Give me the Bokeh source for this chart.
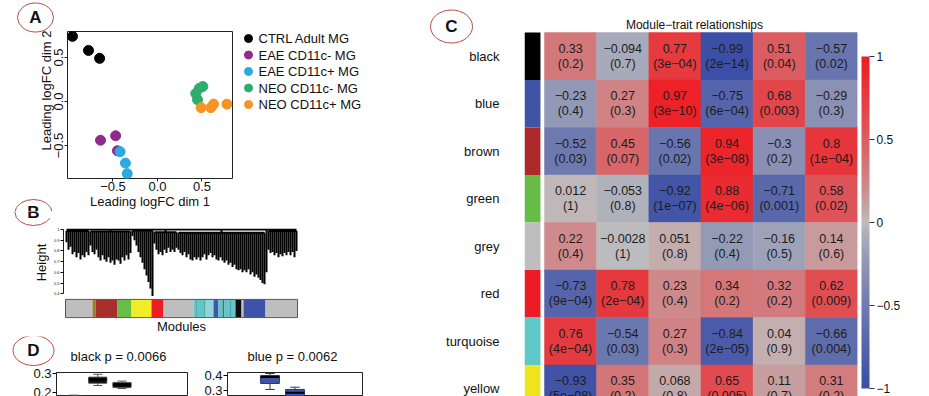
import numpy as np
from bokeh.plotting import figure
from bokeh.models import ColumnDataSource, Range1d, FixedTicker, LinearColorMapper, ColorBar
from bokeh.layouts import row, column
from bokeh.embed import file_html
from bokeh.resources import INLINE
from bokeh.core.properties import value

FONT = "Liberation Sans"
MINUS = "\u2212"
INK = "#111111"
CIRCLE = "#B84A44"

# ---------------- Panel A : MDS plot ----------------
mds_groups = ["CTRL Adult MG", "EAE CD11c- MG", "EAE CD11c+ MG", "NEO CD11c- MG", "NEO CD11c+ MG"]
mds_colors = ["#000000", "#8E2B8D", "#2BA9E1", "#2DAE6D", "#F39424"]
ctrl_dim1 = [-0.955, -0.775, -0.65]
ctrl_dim2 = [0.74, 0.58, 0.49]
eae_neg_dim1 = [-0.64, -0.47, -0.45]
eae_neg_dim2 = [-0.44, -0.39, -0.56]
eae_pos_dim1 = [-0.42, -0.36, -0.34]
eae_pos_dim2 = [-0.57, -0.70, -0.82]
neo_neg_dim1 = [0.51, 0.43, 0.45, 0.47]
neo_neg_dim2 = [0.17, 0.09, 0.02, 0.15]
neo_pos_dim1 = [0.49, 0.60, 0.63, 0.78]
neo_pos_dim2 = [-0.07, -0.07, -0.03, -0.03]
mds_ticks = [-0.5, 0.0, 0.5]
mds_tick_labels = [MINUS + "0.5", "0.0", "0.5"]

# ---------------- Panel B : dendrogram + module colours ----------------
leaves_g1 = [0.88, 0.81, 0.84, 0.77, 0.79, 0.74, 0.78, 0.72, 0.76, 0.74, 0.79, 0.76]
leaves_g2 = [0.85, 0.79, 0.77, 0.81, 0.74, 0.71, 0.76, 0.72, 0.70, 0.74, 0.69, 0.71, 0.67,
             0.72, 0.71, 0.68, 0.74, 0.71, 0.76, 0.72, 0.78]
leaves_g3 = [0.94, 0.90, 0.85, 0.79, 0.74, 0.69, 0.63, 0.57, 0.51, 0.45, 0.38]
leaves_g4 = [0.87, 0.81, 0.77, 0.79, 0.76, 0.81, 0.78, 0.83, 0.79, 0.81, 0.79, 0.83]
leaves_g5 = [0.81, 0.78, 0.76, 0.79, 0.74, 0.77, 0.72, 0.71, 0.74, 0.72, 0.74, 0.71, 0.74,
             0.77, 0.72, 0.76, 0.78, 0.74, 0.76, 0.72, 0.71, 0.74, 0.71, 0.69, 0.71, 0.67,
             0.69, 0.65, 0.67, 0.63, 0.62, 0.63, 0.60, 0.62, 0.60, 0.63, 0.58, 0.60, 0.56,
             0.58, 0.55, 0.53, 0.50, 0.49]
leaves_g6 = [0.60]
leaves_g7 = [0.81, 0.78, 0.79, 0.76, 0.78, 0.74, 0.77, 0.75, 0.78, 0.76, 0.79, 0.76, 0.79,
             0.74, 0.80]
merge_heights = [0.985, 0.98, 0.99, 0.975, 0.97, 0.965, 0.985]
height_ticks = [0.4, 0.5, 0.6, 0.7, 0.8, 0.9, 1.0]
module_bar_colors = ["#BEBEBE", "#9C7A2E", "#A8302C", "#67BD48", "#F2EC26", "#EC1E25", "#BEBEBE",
                     "#5CC8C9", "#1F6A74", "#5CC8C9", "#1F6A74", "#8ED6D8", "#4157A6", "#5CC8C9",
                     "#2C7C86", "#5CC8C9", "#1F5660", "#5CC8C9", "#0D0D0D", "#BEBEBE", "#3D52A8",
                     "#BEBEBE"]
module_bar_sizes = [13.5, 1.5, 11, 7, 10, 6, 15, 1.5, 0.5, 3.5, 0.5, 4, 2.5, 2, 1, 3, 0.5, 2,
                    3, 1, 11, 16]

# ---------------- Panel C : module-trait heatmap ----------------
modules = ["black", "blue", "brown", "green", "grey", "red", "turquoise", "yellow"]
module_swatches = ["#000000", "#3F53A7", "#AD2A2C", "#66BC46", "#BEBEBE", "#EC1C24", "#5EC8C8", "#EDE51D"]
cor_black = [0.33, -0.094, 0.77, -0.99, 0.51, -0.57]
cor_blue = [-0.23, 0.27, 0.97, -0.75, 0.68, -0.29]
cor_brown = [-0.52, 0.45, -0.56, 0.94, -0.3, 0.8]
cor_green = [0.012, -0.053, -0.92, 0.88, -0.71, 0.58]
cor_grey = [0.22, -0.0028, 0.051, -0.22, -0.16, 0.14]
cor_red = [-0.73, 0.78, 0.23, 0.34, 0.32, 0.62]
cor_turquoise = [0.76, -0.54, 0.27, -0.84, 0.04, -0.66]
cor_yellow = [-0.93, 0.35, 0.068, 0.65, 0.11, 0.31]
p_black = ["0.2", "0.7", "3e-04", "2e-14", "0.04", "0.02"]
p_blue = ["0.4", "0.3", "3e-10", "6e-04", "0.003", "0.3"]
p_brown = ["0.03", "0.07", "0.02", "3e-08", "0.2", "1e-04"]
p_green = ["1", "0.8", "1e-07", "4e-06", "0.001", "0.02"]
p_grey = ["0.4", "1", "0.8", "0.4", "0.5", "0.6"]
p_red = ["9e-04", "2e-04", "0.4", "0.2", "0.2", "0.009"]
p_turquoise = ["4e-04", "0.03", "0.3", "2e-05", "0.9", "0.004"]
p_yellow = ["5e-08", "0.2", "0.8", "0.005", "0.7", "0.2"]
colorbar_ticks = [-1, -0.5, 0, 0.5, 1]

# ---------------- Panel D : eigengene boxplots ----------------
d_modules = ["black", "blue"]
d_pvalues = ["0.0066", "0.0062"]
box_groups = [1, 2, 3, 4, 5]
black_lo = [0.150, 0.237, 0.221, 0.100, 0.080]
black_q1 = [0.160, 0.249, 0.226, 0.110, 0.090]
black_med = [0.170, 0.268, 0.242, 0.120, 0.100]
black_q3 = [0.180, 0.281, 0.253, 0.130, 0.110]
black_hi = [0.186, 0.296, 0.260, 0.140, 0.120]
blue_lo = [0.190, 0.307, 0.250, 0.120, 0.100]
blue_q1 = [0.200, 0.347, 0.262, 0.130, 0.110]
blue_med = [0.210, 0.390, 0.285, 0.140, 0.120]
blue_q3 = [0.220, 0.400, 0.307, 0.150, 0.130]
blue_hi = [0.235, 0.413, 0.322, 0.160, 0.140]


def base_fig(width, height, xr, yr, left, right, top, bottom, title=None):
    p = figure(width=width, height=height, x_range=xr, y_range=yr, title=title,
               output_backend="svg", toolbar_location=None,
               min_border_left=left, min_border_right=right,
               min_border_top=top, min_border_bottom=bottom,
               background_fill_color="white", border_fill_color="white")
    p.xgrid.grid_line_color = None
    p.ygrid.grid_line_color = None
    p.axis.minor_tick_line_color = None
    p.axis.major_label_text_font = FONT
    p.axis.axis_label_text_font = FONT
    p.axis.axis_label_text_font_style = "normal"
    p.axis.major_label_text_color = INK
    p.axis.axis_label_text_color = INK
    p.outline_line_color = None
    return p


def blank_fig(width, height, xr, yr):
    p = base_fig(width, height, xr, yr, 0, 0, 0, 0)
    p.xaxis.visible = False
    p.yaxis.visible = False
    return p


def draw_badge(p, letter, cx, cy, w, h):
    p.ellipse(x=[cx], y=[cy], width=w, height=h, width_units="screen", height_units="screen",
              fill_color=None, line_color=CIRCLE, line_width=1)
    p.text(x=[cx], y=[cy], text=[letter], text_align="center", text_baseline="middle",
           text_font=value(FONT), text_font_size="17px", text_font_style="bold", text_color=INK)


def draw_text(p, xs, ys, texts, size="13px", align="center", angle=0.0):
    p.text(x=xs, y=ys, text=texts, angle=angle, text_align=align, text_baseline="middle",
           text_font=value(FONT), text_font_size=size, text_color=INK)


# ===== Panel A =====
A_TOP, A_BOTTOM = 0.795, -0.875          # y-range of the MDS plot
pA = base_fig(176, 211, Range1d(-1.011, 0.843), Range1d(A_BOTTOM, A_TOP), 3, 8, 31, 33)
pA.outline_line_color = "#222222"
for ax in (pA.xaxis, pA.yaxis):
    ax.ticker = FixedTicker(ticks=mds_ticks)
    ax.axis_line_color = None
    ax.major_tick_in = 0
    ax.major_tick_out = 3
    ax.major_tick_line_color = "#222222"
    ax.major_label_standoff = 0
pA.xaxis.major_label_overrides = {t: l for t, l in zip(mds_ticks, mds_tick_labels)}
pA.xaxis.major_label_text_font_size = "13px"
pA.yaxis.major_label_overrides = {t: "" for t in mds_ticks}
pA.yaxis.major_label_text_font_size = "0px"
pA.xaxis.axis_label = "Leading logFC dim 1"
pA.xaxis.axis_label_text_font_size = "13px"
pA.xaxis.axis_label_standoff = 0
mds_sets = [(ctrl_dim1, ctrl_dim2), (eae_neg_dim1, eae_neg_dim2), (eae_pos_dim1, eae_pos_dim2),
            (neo_neg_dim1, neo_neg_dim2), (neo_pos_dim1, neo_pos_dim2)]
for (xs, ys), col in zip(mds_sets, mds_colors):
    pA.scatter(xs, ys, size=10, fill_color=col, line_color=col)

# left gutter of panel A: badge, rotated y tick labels and y title, on the same y scale
PX_PER_UNIT_A = 147 / (A_TOP - A_BOTTOM)
gA = blank_fig(64, 211, Range1d(0, 64),
               Range1d(A_TOP - 180 / PX_PER_UNIT_A, A_TOP + 31 / PX_PER_UNIT_A))
draw_badge(gA, "A", 35, A_TOP + (31 - 17) / PX_PER_UNIT_A, 36, 29)
draw_badge(gA, "B", 33, A_TOP - (212 - 31) / PX_PER_UNIT_A, 37, 26)
draw_text(gA, [58] * len(mds_ticks), mds_ticks, mds_tick_labels, angle=np.pi / 2)
draw_text(gA, [46], [A_TOP - (90 - 31) / PX_PER_UNIT_A], ["Leading logFC dim 2"], angle=np.pi / 2)

# legend of panel A (own strip, right of the plot)
pLeg = blank_fig(188, 211, Range1d(0, 188), Range1d(211, 0))
leg_y = [38 + 16.5 * i for i in range(len(mds_groups))]
pLeg.scatter([8] * len(mds_groups), leg_y, size=8, fill_color=mds_colors, line_color=mds_colors)
draw_text(pLeg, [18] * len(mds_groups), leg_y, mds_groups, align="left")

# ===== Panel B =====
pB = base_fig(378, 125, Range1d(-1, 117), Range1d(0.170, 1.009), 13, 129, 17, 14)
seg_x0, seg_y0, seg_x1, seg_y1 = [], [], [], []
pos = 0
for leaves, mh in zip([leaves_g1, leaves_g2, leaves_g3, leaves_g4, leaves_g5, leaves_g6, leaves_g7],
                      merge_heights):
    xs = [pos + k + 0.5 for k in range(len(leaves))]
    for x, h in zip(xs, leaves):
        seg_x0.append(x); seg_y0.append(h); seg_x1.append(x); seg_y1.append(mh)
    seg_x0.append(xs[0]); seg_y0.append(mh); seg_x1.append(xs[-1]); seg_y1.append(mh)
    c = (xs[0] + xs[-1]) / 2
    seg_x0.append(c); seg_y0.append(mh); seg_x1.append(c); seg_y1.append(1.0)
    pos += len(leaves)
seg_x0.append(0.5); seg_y0.append(1.0); seg_x1.append(pos - 0.5); seg_y1.append(1.0)
pB.segment(seg_x0, seg_y0, seg_x1, seg_y1, line_color="#000000", line_width=2.0)

bar_right = [float(v) for v in np.cumsum(module_bar_sizes)]
bar_left = [0.0] + bar_right[:-1]
pB.quad(left=bar_left, right=bar_right, bottom=0.178, top=0.348,
        fill_color=module_bar_colors, line_color=None)
pB.quad(left=[0], right=[bar_right[-1]], bottom=[0.178], top=[0.348],
        fill_color=None, line_color="#555555", line_width=1)
pB.yaxis.ticker = FixedTicker(ticks=height_ticks)
pB.yaxis.bounds = (0.4, 1.0)
pB.yaxis.major_label_text_font_size = "4px"
pB.yaxis.major_tick_out = 3
pB.yaxis.major_tick_in = 0
pB.yaxis.major_label_standoff = 1
pB.yaxis.axis_line_color = "#222222"
pB.xaxis.ticker = FixedTicker(ticks=[])
pB.xaxis.axis_line_color = None
pB.xaxis.major_tick_line_color = None
pB.xaxis.major_label_standoff = 0
pB.xaxis.axis_label = "Modules"
pB.xaxis.axis_label_text_font_size = "13px"
pB.xaxis.axis_label_standoff = 0

gB = blank_fig(50, 125, Range1d(0, 50), Range1d(336, 211))
draw_badge(gB, "B", 33, 212, 37, 26)
draw_text(gB, [41], [262], ["Height"], angle=np.pi / 2)

# ===== Panel D header: badge + box plot titles =====
pDtop = blank_fig(428, 30, Range1d(0, 428), Range1d(30, 0))
draw_badge(pDtop, "D", 33, 14, 41, 30)
draw_text(pDtop, [118, 292], [20, 20], [m + " p = " + pv for m, pv in zip(d_modules, d_pvalues)])


def boxplot(lo, q1, med, q3, hi, fill, outline, yr, ticks, width, left, right):
    p = base_fig(width, 30, Range1d(0.3, 5.7), yr, left, right, 6, 0)
    p.outline_line_color = "#222222"
    p.xaxis.visible = False
    p.yaxis.ticker = FixedTicker(ticks=ticks)
    p.yaxis.axis_line_color = None
    p.yaxis.major_tick_out = 4
    p.yaxis.major_tick_in = 0
    p.yaxis.major_label_standoff = 1
    p.yaxis.major_label_text_font_size = "13px"
    bw = 0.75
    p.segment(box_groups, lo, box_groups, q1, line_color=outline, line_width=1)
    p.segment(box_groups, q3, box_groups, hi, line_color=outline, line_width=1)
    p.segment([g - bw / 4 for g in box_groups], lo, [g + bw / 4 for g in box_groups], lo,
              line_color=outline, line_width=1)
    p.segment([g - bw / 4 for g in box_groups], hi, [g + bw / 4 for g in box_groups], hi,
              line_color=outline, line_width=1)
    p.vbar(x=box_groups, width=bw, bottom=q1, top=q3, fill_color=fill, line_color=outline)
    p.segment([g - bw / 2 for g in box_groups], med, [g + bw / 2 for g in box_groups], med,
              line_color="#000000", line_width=2)
    return p


pD1 = boxplot(black_lo, black_q1, black_med, black_q3, black_hi, "#0A0A0A", "#555555",
              Range1d(0.179, 0.3053), [0.2, 0.3], 200, 56, 13)
pD2 = boxplot(blue_lo, blue_q1, blue_med, blue_q3, blue_hi, "#3D55A6", "#26336A",
              Range1d(0.26, 0.42), [0.3, 0.4], 228, 27, 66)

# ===== Panel C =====
blue_c = np.array([59, 78, 166])
grey_c = np.array([190, 190, 190])
red_c = np.array([238, 30, 36])
palette = []
for k in range(256):
    t = k / 255 * 2 - 1
    s = abs(t) ** 0.75
    c = grey_c + (blue_c - grey_c) * s if t < 0 else grey_c + (red_c - grey_c) * s
    palette.append("#%02x%02x%02x" % tuple(int(round(v)) for v in c))
mapper = LinearColorMapper(palette=palette, low=-1, high=1)

cors = [cor_black, cor_blue, cor_brown, cor_green, cor_grey, cor_red, cor_turquoise, cor_yellow]
pvs = [p_black, p_blue, p_brown, p_green, p_grey, p_red, p_turquoise, p_yellow]
cx, cy, cv, ct = [], [], [], []
for i in range(len(modules)):
    for j in range(6):
        cx.append(j + 0.5)
        cy.append(i + 0.5)
        cv.append(cors[i][j])
        ct.append(str(cors[i][j]).replace("-", MINUS) + "\n(" + pvs[i][j].replace("-", MINUS) + ")")
src = ColumnDataSource(dict(x=cx, y=cy, v=cv, t=ct))

ROW_PX = 47.5
rows_bottom = 364 / ROW_PX
rows_top = -32 / ROW_PX
# row labels + badge C strip
pClab = blank_fig(96, 396, Range1d(428, 524), Range1d(rows_bottom, rows_top))
draw_badge(pClab, "C", 451, (26 - 32) / ROW_PX, 42, 33)
draw_text(pClab, [499] * len(modules), [i + 0.5 for i in range(len(modules))], modules, align="right")

pC = base_fig(397, 396, Range1d(-0.383, 6.0), Range1d(rows_bottom, rows_top), 0, 64, 0, 0)
pC.xaxis.visible = False
pC.yaxis.visible = False
pC.rect(x="x", y="y", width=1, height=1, source=src,
        fill_color={"field": "v", "transform": mapper},
        line_color={"field": "v", "transform": mapper}, line_width=0.5)
pC.text(x="x", y="y", text="t", source=src, text_align="center", text_baseline="middle",
        text_font=value(FONT), text_font_size="12.5px", text_line_height=1.05,
        text_color="#1c1c1c")
pC.quad(left=-0.383, right=-0.077, bottom=[i for i in range(len(modules))],
        top=[i + 1 for i in range(len(modules))], fill_color=module_swatches, line_color=None)
draw_text(pC, [2.875], [(24 - 32) / ROW_PX], ["Module" + MINUS + "trait relationships"], size="12px")
cb = ColorBar(color_mapper=mapper, width=8, height=332, location=(4, 8), padding=0, margin=0,
              ticker=FixedTicker(ticks=colorbar_ticks),
              major_label_overrides={-1: MINUS + "1", -0.5: MINUS + "0.5", 0: "0", 0.5: "0.5", 1: "1"},
              major_tick_in=0, major_tick_out=5, major_tick_line_color="#333333",
              bar_line_color=None, label_standoff=2,
              major_label_text_font=FONT, major_label_text_font_size="12px",
              major_label_text_color=INK,
              background_fill_alpha=0, border_line_color=None)
pC.add_layout(cb, "right")

top_block = column(row(column(gA), pA, column(pLeg)), row(column(gB), pB))
left = column(top_block, pDtop, row(pD1, pD2))
layout = row(left, pClab, pC)
open("out.html", "w").write(file_html(layout, INLINE, "Figure"))
